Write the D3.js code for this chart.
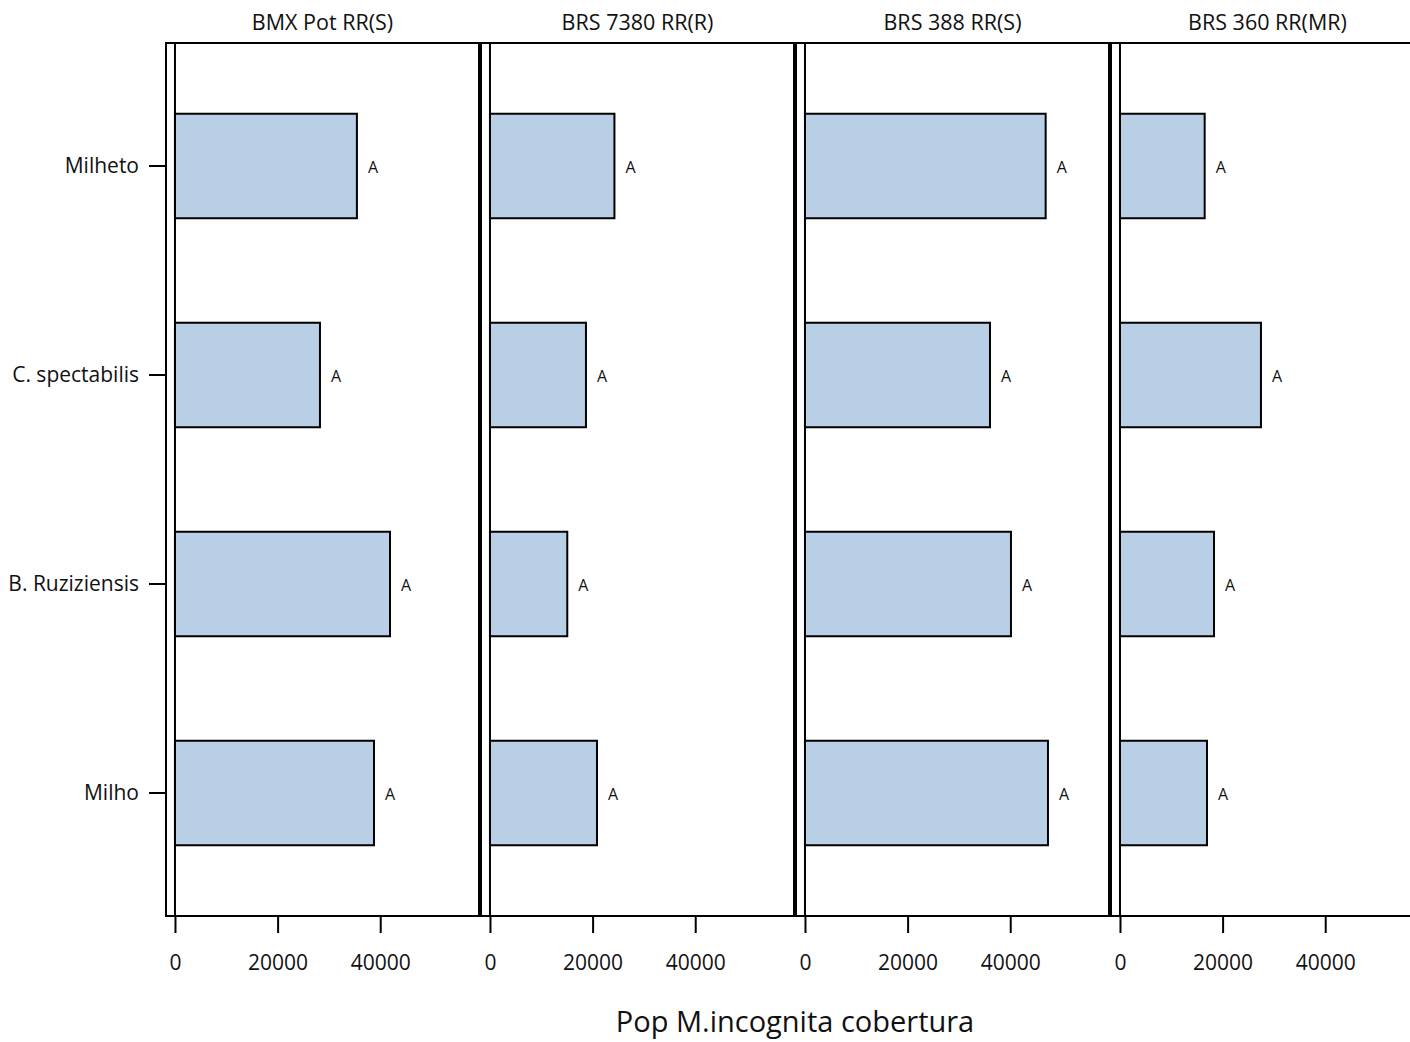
<!DOCTYPE html>
<html><head><meta charset="utf-8">
<script src="https://cdn.jsdelivr.net/npm/d3@7"></script>
<style>body{margin:0;background:#fff;}svg{display:block;font-family:"Open Sans",sans-serif;}</style>
</head><body>
<script>
const categories = ["Milheto", "C. spectabilis", "B. Ruziziensis", "Milho"];
const panels = ["BMX Pot RR(S)", "BRS 7380 RR(R)", "BRS 388 RR(S)", "BRS 360 RR(MR)"];
const valuesBMX = [35650, 28450, 42100, 38980];
const values7380 = [24450, 18900, 15260, 21050];
const values388 = [47100, 36250, 40340, 47550];
const values360 = [16700, 27670, 18520, 17150];
const letters = ["A", "A", "A", "A"];
const xTicks = [0, 20000, 40000];
const xTitle = "Pop M.incognita cobertura";

const seriesValues = [valuesBMX, values7380, values388, values360];
const W = 1410, H = 1042;
const plotTop = 43, plotBottom = 916, left0 = 166, panelW = 313, panelGap = 2;

const svg = d3.select("body").append("svg").attr("width", W).attr("height", H);

const y = d3.scaleBand().domain(categories).range([plotTop, plotBottom]).paddingInner(0.5).paddingOuter(0.3385);
const x = d3.scaleLinear().domain([-1750, 59250]).range([0, panelW]);

panels.forEach((title, i) => {
  const px = left0 + i * (panelW + panelGap);
  const g = svg.append("g").attr("transform", `translate(${px},0)`);
  g.selectAll("rect.bar").data(categories).join("rect")
    .attr("class", "bar")
    .attr("x", x(0))
    .attr("y", d => y(d))
    .attr("width", (d, j) => x(seriesValues[i][j]) - x(0) - 1)
    .attr("height", y.bandwidth())
    .attr("fill", "#B9CFE6")
    .attr("stroke", "#000")
    .attr("stroke-width", 2);
  g.selectAll("text.lab").data(categories).join("text")
    .attr("class", "lab")
    .attr("x", (d, j) => x(seriesValues[i][j]) + 10)
    .attr("y", d => y(d) + y.bandwidth() / 2 + 1)
    .attr("dy", "0.35em")
    .attr("font-size", 16)
    .attr("fill", "#111")
    .text((d, j) => letters[j]);
  g.append("line").attr("x1", x(0)).attr("x2", x(0)).attr("y1", plotTop).attr("y2", plotBottom)
    .attr("stroke", "#000").attr("stroke-width", 2);
  g.append("rect").attr("x", 0).attr("y", plotTop).attr("width", panelW).attr("height", plotBottom - plotTop)
    .attr("fill", "none").attr("stroke", "#000").attr("stroke-width", 2);
  const ax = g.append("g").attr("transform", `translate(0,${plotBottom})`)
    .call(d3.axisBottom(x).tickValues(xTicks).tickFormat(d3.format("d")).tickSize(17).tickPadding(22).tickSizeOuter(0));
  ax.select(".domain").remove();
  ax.selectAll(".tick line").attr("stroke", "#000").attr("stroke-width", 2);
  ax.selectAll(".tick text").attr("font-size", 21).attr("font-family", "Open Sans, sans-serif").attr("fill", "#111");
  svg.append("text").attr("x", px + panelW / 2).attr("y", 30).attr("text-anchor", "middle")
    .attr("font-size", 21.5).attr("fill", "#111").text(title);
});

const ay = svg.append("g").attr("transform", `translate(${left0 - 1},0)`)
  .call(d3.axisLeft(y).tickSize(16).tickPadding(10).tickSizeOuter(0));
ay.select(".domain").remove();
ay.selectAll(".tick line").attr("stroke", "#000").attr("stroke-width", 2);
ay.selectAll(".tick text").attr("font-size", 21).attr("font-family", "Open Sans, sans-serif").attr("fill", "#111");

svg.append("text").attr("x", left0 + (4 * panelW + 3 * panelGap) / 2).attr("y", 1032)
  .attr("text-anchor", "middle").attr("font-size", 29).attr("fill", "#111").text(xTitle);
</script>
</body></html>
